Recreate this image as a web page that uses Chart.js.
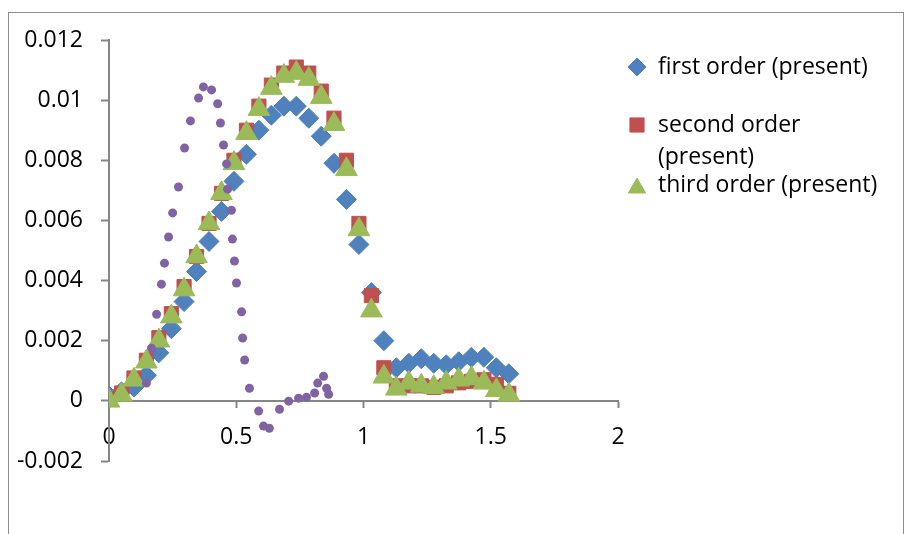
<!DOCTYPE html>
<html><head><meta charset="utf-8">
<script src="https://cdn.jsdelivr.net/npm/chart.js@4"></script>
<style>html,body{margin:0;padding:0;background:#fff;}#wrap{width:909px;height:534px;position:relative;}</style>
</head><body><div id="wrap"><canvas id="c" width="909" height="534"></canvas></div>
<script>
const xValues = [0, 0.049, 0.098, 0.147, 0.196, 0.245, 0.295, 0.344, 0.393, 0.442, 0.491, 0.540, 0.589, 0.638, 0.687, 0.736, 0.785, 0.834, 0.884, 0.933, 0.982, 1.031, 1.080, 1.129, 1.178, 1.227, 1.276, 1.325, 1.374, 1.424, 1.473, 1.522, 1.571];
const firstOrder = [0.00016, 0.0003, 0.00046, 0.00085, 0.0016, 0.0024, 0.0033, 0.0043, 0.0053, 0.0063, 0.0073, 0.0082, 0.0090, 0.0095, 0.0098, 0.0098, 0.0094, 0.0088, 0.0079, 0.0067, 0.0052, 0.0036, 0.0020, 0.0011, 0.00125, 0.0014, 0.00125, 0.0012, 0.0013, 0.00145, 0.00145, 0.0011, 0.0009];
const secondOrder = [0.00005, 0.00026, 0.00076, 0.00135, 0.0021, 0.0029, 0.0038, 0.0048, 0.0059, 0.0069, 0.0080, 0.0090, 0.0098, 0.0105, 0.0109, 0.0111, 0.0109, 0.0103, 0.0094, 0.0080, 0.0059, 0.0035, 0.0011, 0.0005, 0.0005, 0.0005, 0.00045, 0.0005, 0.0006, 0.00065, 0.0007, 0.00055, 0.00025];
const thirdOrder = [0.0, 0.0002, 0.0007, 0.0013, 0.0020, 0.0028, 0.0037, 0.0048, 0.0059, 0.0069, 0.0079, 0.0089, 0.0097, 0.0104, 0.0108, 0.0109, 0.0107, 0.0101, 0.0092, 0.0077, 0.0057, 0.0030, 0.0008, 0.0004, 0.0006, 0.0005, 0.00045, 0.0006, 0.0007, 0.00075, 0.0006, 0.00035, 0.0002];
const otherX = [0.147, 0.167, 0.187, 0.206, 0.218, 0.234, 0.250, 0.273, 0.297, 0.320, 0.352, 0.371, 0.403, 0.427, 0.438, 0.450, 0.462, 0.466, 0.481, 0.485, 0.493, 0.501, 0.521, 0.525, 0.533, 0.552, 0.588, 0.607, 0.630, 0.670, 0.706, 0.745, 0.776, 0.808, 0.820, 0.843, 0.855, 0.863];
const otherY = [0.00059, 0.00175, 0.00288, 0.00388, 0.00458, 0.00545, 0.00625, 0.00711, 0.00841, 0.00931, 0.01007, 0.01044, 0.01034, 0.00988, 0.00924, 0.00851, 0.00788, 0.00704, 0.00634, 0.00538, 0.00465, 0.00392, 0.00296, 0.00209, 0.00136, 0.00042, -0.00034, -0.00084, -0.00091, -0.00028, -0.00001, 0.00009, 0.00012, 0.00026, 0.00059, 0.00082, 0.00042, 0.00022];
const xTickValues = [0, 0.5, 1, 1.5, 2];
const xTickLabels = ['0', '0.5', '1', '1.5', '2'];
const yTickValues = [-0.002, 0, 0.002, 0.004, 0.006, 0.008, 0.010, 0.012];
const yTickLabels = ['-0.002', '0', '0.002', '0.004', '0.006', '0.008', '0.01', '0.012'];
const seriesNames = ['first order (present)', 'second order (present)', 'third order (present)'];
const legendLines = [['first order (present)'], ['second order', '(present)'], ['third order (present)']];

const FONT = '"Open Sans", "Liberation Sans", sans-serif';
const FSIZE = 23;
const AXIS = '#868686';
const BLUE = '#4F81BD', RED = '#C0504D', GREEN = '#9BBB59', PURPLE = '#8064A2';

const pts = (xs, ys) => xs.map((x, i) => ({x: x, y: ys[i]}));

const frame = {
  id: 'frame',
  beforeDraw(chart) {
    const c = chart.ctx;
    c.save();
    c.fillStyle = '#fff';
    c.fillRect(0, 0, chart.width, chart.height);
    c.strokeStyle = '#8c8c8c';
    c.lineWidth = 1;
    c.strokeRect(8.5, 12.5, 895, 540);
    c.restore();
  }
};

const legendPlugin = {
  id: 'customLegend',
  afterDraw(chart) {
    const c = chart.ctx;
    const styles = [
      {ds: 3, style: 'rectRot', r: 9, y: 67},
      {ds: 2, style: 'rect', r: 10, y: 125},
      {ds: 1, style: 'triangle', r: 10, y: 185}
    ];
    c.save();
    c.font = FSIZE + 'px ' + FONT;
    c.textBaseline = 'middle';
    c.textAlign = 'left';
    styles.forEach((s, i) => {
      const d = chart.data.datasets[s.ds];
      c.fillStyle = d.backgroundColor;
      c.strokeStyle = d.borderColor;
      c.lineWidth = 1;
      Chart.helpers.drawPoint(c, {pointStyle: s.style, radius: s.r, borderWidth: 1}, 637, s.style === 'triangle' ? s.y + 3 : s.y);
      c.fillStyle = '#000';
      legendLines[i].forEach((t, j) => c.fillText(t, 658, s.y + j * 32));
    });
    c.restore();
  }
};

new Chart(document.getElementById('c'), {
  type: 'scatter',
  data: {
    datasets: [
      {label: 'series 4', data: pts(otherX, otherY), pointStyle: 'circle', pointRadius: 4.5, backgroundColor: PURPLE, borderColor: PURPLE, borderWidth: 0, order: 0},
      {label: seriesNames[2], data: pts(xValues, thirdOrder), pointStyle: 'triangle', pointRadius: 12.5, backgroundColor: GREEN, borderColor: GREEN, borderWidth: 1, order: 1},
      {label: seriesNames[1], data: pts(xValues, secondOrder), pointStyle: 'rect', pointRadius: 10, backgroundColor: RED, borderColor: RED, borderWidth: 1, order: 2},
      {label: seriesNames[0], data: pts(xValues, firstOrder), pointStyle: 'rectRot', pointRadius: 10, backgroundColor: BLUE, borderColor: BLUE, borderWidth: 1, order: 3}
    ]
  },
  options: {
    responsive: false,
    animation: false,
    devicePixelRatio: 1,
    events: [],
    layout: {padding: {left: 0, top: 40, right: 291, bottom: 73}},
    plugins: {legend: {display: false}, tooltip: {enabled: false}},
    scales: {
      x: {
        type: 'linear', min: 0, max: 2, position: {y: 0},
        afterBuildTicks(s) { s.ticks = xTickValues.map(v => ({value: v})); },
        ticks: {callback: (v, i) => xTickLabels[i], font: {family: FONT, size: FSIZE}, color: '#000', padding: 17, maxRotation: 0, autoSkip: false},
        grid: {display: true, drawOnChartArea: false, drawTicks: true, tickLength: 6, tickColor: AXIS, tickWidth: 2},
        border: {display: true, color: AXIS, width: 2}
      },
      y: {
        type: 'linear', min: -0.002, max: 0.012, position: 'left',
        afterFit(s) { s.width = 109; },
        afterBuildTicks(s) { s.ticks = yTickValues.map(v => ({value: v})); },
        ticks: {callback: (v, i) => yTickLabels[i], font: {family: FONT, size: FSIZE}, color: '#000', padding: 18, autoSkip: false},
        grid: {display: true, drawOnChartArea: false, drawTicks: true, tickLength: 8, tickColor: AXIS, tickWidth: 2},
        border: {display: true, color: AXIS, width: 2}
      }
    }
  },
  plugins: [frame, legendPlugin]
});
</script></body></html>
